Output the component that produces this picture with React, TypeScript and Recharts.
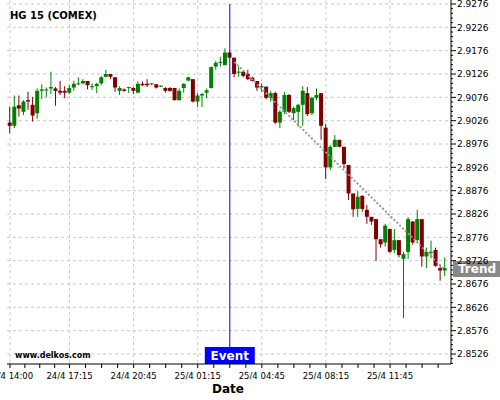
import React from 'react'
import { ComposedChart, Bar, XAxis, YAxis, CartesianGrid, ReferenceLine } from 'recharts'

// ─── Data: 15 min candles HG 15 (COMEX), 24/4 14:00 → 25/4 14:45 ───────
const OPEN = [
  2.9022, 2.9015, 2.9059, 2.9045, 2.9070, 2.9060, 2.9042, 2.9090, 2.9091, 2.9095, 2.9095, 2.9090,
  2.9090, 2.9086, 2.9097, 2.9105, 2.9106, 2.9111, 2.9098, 2.9100, 2.9106, 2.9120, 2.9126, 2.9119,
  2.9090, 2.9093, 2.9096, 2.9096, 2.9086, 2.9105, 2.9105, 2.9105, 2.9104, 2.9100, 2.9096, 2.9096,
  2.9096, 2.9070, 2.9096, 2.9112, 2.9115, 2.9067, 2.9080, 2.9086, 2.9096, 2.9142, 2.9150, 2.9145,
  2.9172, 2.9161, 2.9129, 2.9131, 2.9126, 2.9118, 2.9111, 2.9097, 2.9099, 2.9075, 2.9085, 2.9022,
  2.9045, 2.9081, 2.9042, 2.9045, 2.9060, 2.9085, 2.9042, 2.9075, 2.9085, 2.9011, 2.8926, 2.8970,
  2.8985, 2.8970, 2.8931, 2.8870, 2.8837, 2.8865, 2.8835, 2.8820, 2.8815, 2.8772, 2.8765, 2.8794,
  2.8749, 2.8770, 2.8730, 2.8745, 2.8810, 2.8770, 2.8815, 2.8735, 2.8743, 2.8749, 2.8710, 2.8705,
]
const HIGH = [
  2.9056, 2.9080, 2.9080, 2.9070, 2.9088, 2.9077, 2.9095, 2.9104, 2.9097, 2.9131, 2.9098, 2.9111,
  2.9100, 2.9102, 2.9112, 2.9119, 2.9115, 2.9111, 2.9106, 2.9107, 2.9122, 2.9135, 2.9126, 2.9119,
  2.9100, 2.9095, 2.9099, 2.9098, 2.9110, 2.9110, 2.9115, 2.9107, 2.9104, 2.9102, 2.9098, 2.9098,
  2.9096, 2.9095, 2.9106, 2.9120, 2.9115, 2.9085, 2.9085, 2.9095, 2.9142, 2.9154, 2.9163, 2.9181,
  2.9174, 2.9161, 2.9142, 2.9133, 2.9135, 2.9120, 2.9111, 2.9106, 2.9099, 2.9090, 2.9088, 2.9049,
  2.9088, 2.9083, 2.9056, 2.9062, 2.9100, 2.9098, 2.9077, 2.9095, 2.9085, 2.9019, 2.8974, 2.8995,
  2.8985, 2.8970, 2.8931, 2.8870, 2.8875, 2.8866, 2.8845, 2.8820, 2.8815, 2.8772, 2.8805, 2.8794,
  2.8794, 2.8770, 2.8745, 2.8819, 2.8810, 2.8835, 2.8815, 2.8754, 2.8769, 2.8754, 2.8717, 2.8733,
]
const LOW = [
  2.8999, 2.9010, 2.9035, 2.9038, 2.9049, 2.9024, 2.9030, 2.9072, 2.9076, 2.9083, 2.9058, 2.9081,
  2.9074, 2.9083, 2.9090, 2.9102, 2.9104, 2.9093, 2.9092, 2.9085, 2.9102, 2.9119, 2.9115, 2.9088,
  2.9081, 2.9088, 2.9085, 2.9083, 2.9085, 2.9100, 2.9098, 2.9102, 2.9095, 2.9098, 2.9086, 2.9088,
  2.9069, 2.9069, 2.9086, 2.9110, 2.9065, 2.9055, 2.9055, 2.9074, 2.9095, 2.9135, 2.9142, 2.9145,
  2.9160, 2.9119, 2.9120, 2.9119, 2.9113, 2.9110, 2.9090, 2.9088, 2.9072, 2.9067, 2.9019, 2.9010,
  2.9040, 2.9042, 2.9027, 2.9013, 2.9015, 2.9036, 2.9038, 2.9070, 2.8985, 2.8901, 2.8920, 2.8969,
  2.8969, 2.8924, 2.8856, 2.8820, 2.8820, 2.8831, 2.8805, 2.8803, 2.8725, 2.8754, 2.8756, 2.8743,
  2.8742, 2.8733, 2.8603, 2.8730, 2.8760, 2.8767, 2.8713, 2.8710, 2.8731, 2.8713, 2.8683, 2.8693,
]
const CLOSE = [
  2.9015, 2.9056, 2.9052, 2.9067, 2.9067, 2.9037, 2.9090, 2.9093, 2.9093, 2.9098, 2.9090, 2.9086,
  2.9086, 2.9096, 2.9105, 2.9106, 2.9111, 2.9102, 2.9100, 2.9105, 2.9119, 2.9126, 2.9120, 2.9097,
  2.9096, 2.9090, 2.9098, 2.9090, 2.9105, 2.9102, 2.9102, 2.9106, 2.9097, 2.9101, 2.9090, 2.9090,
  2.9070, 2.9090, 2.9105, 2.9119, 2.9067, 2.9080, 2.9083, 2.9091, 2.9141, 2.9150, 2.9152, 2.9172,
  2.9161, 2.9126, 2.9131, 2.9122, 2.9115, 2.9111, 2.9097, 2.9100, 2.9075, 2.9085, 2.9022, 2.9045,
  2.9081, 2.9045, 2.9053, 2.9060, 2.9090, 2.9040, 2.9075, 2.9081, 2.9015, 2.8926, 2.8970, 2.8985,
  2.8970, 2.8933, 2.8870, 2.8836, 2.8863, 2.8837, 2.8820, 2.8810, 2.8772, 2.8761, 2.8801, 2.8745,
  2.8770, 2.8738, 2.8740, 2.8815, 2.8765, 2.8815, 2.8735, 2.8745, 2.8745, 2.8715, 2.8705, 2.8710,
]

// x ticks: candle index → label
const X_TICK_IDX = [0, 13, 27, 41, 55, 69, 83]
const X_TICK_LABELS = ['24/4 14:00', '24/4 17:15', '24/4 20:45', '25/4 01:15', '25/4 04:45', '25/4 08:15', '25/4 11:45']

const Y_TICKS = [
  2.8526, 2.8576, 2.8626, 2.8676, 2.8726, 2.8776, 2.8826, 2.8876,
  2.8926, 2.8976, 2.9026, 2.9076, 2.9126, 2.9176, 2.9226, 2.9276,
]

// event + trend annotations
const EVENT_IDX = 48
const TREND = [
  { x: 49, y: 2.9152 },
  { x: 95, y: 2.8706 },
]

const Y_MIN = 2.85046
const Y_MAX = 2.92846
const X_MIN = -0.655
const X_MAX = 96.31

const RED = '#800000'
const GREEN = '#008000'
const FONT = '"DejaVu Sans", sans-serif'

const data = OPEN.map((o, i) => ({
  i,
  o,
  h: HIGH[i],
  l: LOW[i],
  c: CLOSE[i],
  range: [LOW[i], HIGH[i]],
}))

// minor ticks: x axis every quarter of a label step, y axis every 0.001
const xMinor: number[] = []
X_TICK_IDX.forEach((v, k) => {
  const step = k < X_TICK_IDX.length - 1 ? (X_TICK_IDX[k + 1] - v) / 4 : 3.5
  for (let j = 0; j < 4; j++) {
    const t = v + j * step
    if (t <= X_MAX) xMinor.push(t)
  }
})
const yMinor: number[] = []
for (let v = Y_TICKS[0] - 0.002; v <= Y_MAX; v += 0.001) yMinor.push(Number(v.toFixed(4)))

const isMajorY = (v: number) => Y_TICKS.some((m) => Math.abs(m - v) < 1e-6)

function Candle(props: any) {
  const { x, y, width, height, payload } = props
  const { o, h, l, c } = payload
  const color = c >= o ? GREEN : RED
  const k = height / (h - l)
  const top = y + (h - Math.max(o, c)) * k
  const bot = y + (h - Math.min(o, c)) * k
  const cx = x + width / 2
  return (
    <g>
      <line x1={cx} x2={cx} y1={y} y2={y + height} stroke={color} strokeWidth={1} />
      <rect x={x} y={top} width={width} height={Math.max(1, bot - top)} fill={color} />
    </g>
  )
}

function XTick({ x, y, payload }: any) {
  const idx = X_TICK_IDX.indexOf(payload.value)
  return (
    <g>
      <line x1={x} x2={x} y1={y} y2={y + 4} stroke="#000" />
      {idx >= 0 && (
        <text x={x} y={y + 15} textAnchor="middle" fontSize={8.5} fontFamily={FONT} fill="#000">
          {X_TICK_LABELS[idx]}
        </text>
      )}
    </g>
  )
}

function YTick({ x, y, payload }: any) {
  const major = isMajorY(payload.value)
  return (
    <g>
      <line x1={x} x2={x + (major ? 5 : 2)} y1={y} y2={y} stroke="#000" />
      {major && (
        <text x={x + 6} y={y + 3.3} fontSize={9} fontFamily={FONT} fill="#000">
          {payload.value.toFixed(4)}
        </text>
      )}
    </g>
  )
}

function EventLabel({ viewBox }: any) {
  const cx = viewBox.x
  const bottom = viewBox.y + viewBox.height
  return (
    <g>
      <rect x={cx - 25} y={bottom - 17} width={50} height={17} fill="#0000ff" />
      <text x={cx} y={bottom - 4} textAnchor="middle" fontSize={12} fontWeight="bold" fontFamily={FONT} fill="#fff">
        Event
      </text>
    </g>
  )
}

function TrendLabel({ viewBox }: any) {
  const x0 = viewBox.x + viewBox.width + 8
  const cy = viewBox.y + viewBox.height - 1
  return (
    <g>
      <rect x={x0} y={cy - 8} width={48} height={16} fill="#888" />
      <text x={x0 + 24} y={cy + 4.3} textAnchor="middle" fontSize={12} fontWeight="bold" fontFamily={FONT} fill="#fff">
        Trend
      </text>
    </g>
  )
}

export default function App() {
  return (
    <div style={{ position: 'absolute', left: 0, top: 0, width: 500, height: 400, background: '#fff' }}>
      <ComposedChart
        width={500}
        height={400}
        data={data}
        margin={{ top: 0, right: 4, left: 7, bottom: 0 }}
      >
        <CartesianGrid
          stroke="#c8c8c8"
          strokeDasharray="3 3"
          horizontalValues={Y_TICKS}
          verticalValues={X_TICK_IDX}
        />
        <XAxis
          dataKey="i"
          type="number"
          domain={[X_MIN, X_MAX]}
          allowDataOverflow
          ticks={xMinor}
          interval={0}
          tick={<XTick />}
          tickLine={false}
          tickSize={0}
          tickMargin={0}
          axisLine={{ stroke: '#000' }}
          height={36}
        />
        <YAxis
          orientation="right"
          type="number"
          domain={[Y_MIN, Y_MAX]}
          allowDataOverflow
          ticks={yMinor}
          interval={0}
          tick={<YTick />}
          tickLine={false}
          tickSize={0}
          tickMargin={0}
          axisLine={{ stroke: '#000' }}
          width={45}
        />
        <Bar dataKey="range" barSize={4} shape={<Candle />} isAnimationActive={false} />
        <ReferenceLine
          segment={TREND}
          stroke="#999"
          strokeWidth={2}
          strokeDasharray="2 2"
          label={<TrendLabel />}
        />
        <ReferenceLine
          segment={[{ x: EVENT_IDX, y: Y_TICKS[Y_TICKS.length - 1] }, { x: EVENT_IDX, y: Y_MIN }]}
          stroke="#0000ff"
          strokeWidth={1}
          label={<EventLabel />}
        />
      </ComposedChart>

      <svg width={500} height={400} style={{ position: 'absolute', left: 0, top: 0, pointerEvents: 'none' }}>
        <text x={10} y={19} fontSize={10} fontWeight="bold" fontFamily={FONT} fill="#000">
          HG 15 (COMEX)
        </text>
        <text x={15} y={357.5} fontSize={8} fontWeight="bold" fontFamily={FONT} fill="#000">
          www.delkos.com
        </text>
        <text x={228} y={393} textAnchor="middle" fontSize={12} fontWeight="bold" fontFamily={FONT} fill="#000">
          Date
        </text>
      </svg>
    </div>
  )
}
